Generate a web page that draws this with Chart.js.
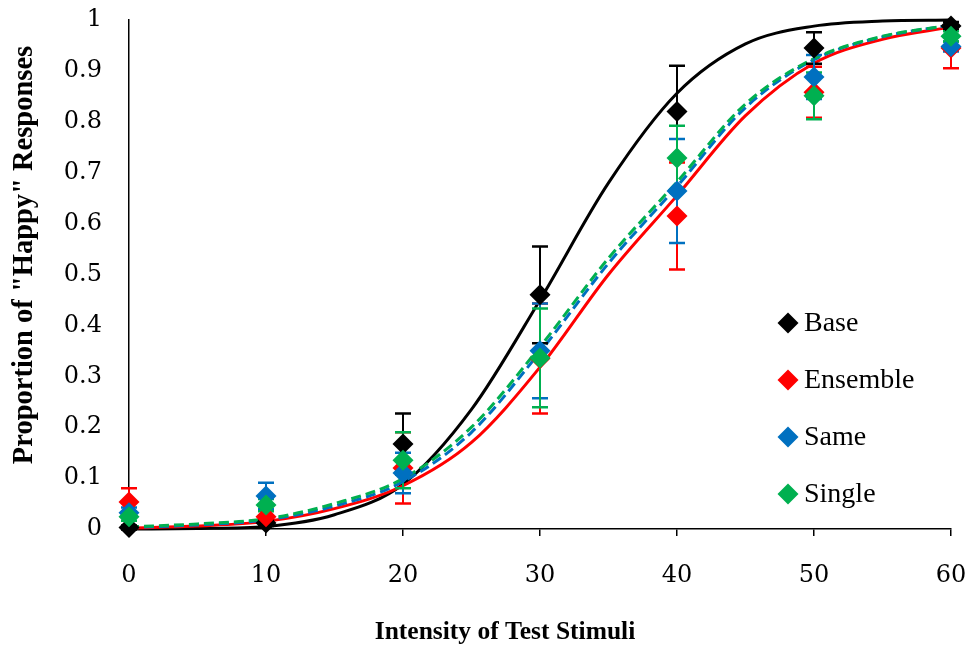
<!DOCTYPE html>
<html>
<head>
<meta charset="utf-8">
<script src="https://cdn.jsdelivr.net/npm/chart.js@4.4.1/dist/chart.umd.min.js"></script>
<style>
html,body{margin:0;padding:0;background:#ffffff;}
#wrap{width:969px;height:646px;position:relative;}
</style>
</head>
<body>
<div id="wrap"><canvas id="c" width="969" height="646"></canvas></div>
<script>
// ---------- data ----------
const xTicks = [0, 10, 20, 30, 40, 50, 60];
const yTicks = [0, 0.1, 0.2, 0.3, 0.4, 0.5, 0.6, 0.7, 0.8, 0.9, 1];
const xTitle = 'Intensity of Test Stimuli';
const yTitle = 'Proportion of "Happy" Responses';

const seriesNames = ['Base', 'Ensemble', 'Same', 'Single'];
const intensity = [0, 10, 20, 30, 40, 50, 60];

const baseMean     = [0.003, 0.012, 0.167, 0.460, 0.820, 0.945, 0.988];
const baseErr      = [0.004, 0.006, 0.060, 0.095, 0.090, 0.031, 0.008];
const ensembleMean = [0.053, 0.024, 0.120, 0.335, 0.615, 0.858, 0.945];
const ensembleErr  = [0.027, 0.012, 0.070, 0.108, 0.105, 0.050, 0.040];
const sameMean     = [0.032, 0.065, 0.110, 0.350, 0.664, 0.888, 0.948];
const sameErr      = [0.010, 0.026, 0.040, 0.093, 0.102, 0.043, 0.010];
const singleMean   = [0.024, 0.047, 0.135, 0.336, 0.729, 0.851, 0.968];
const singleErr    = [0.008, 0.012, 0.055, 0.097, 0.063, 0.046, 0.010];

// fitted curves
const fitX        = [0, 5, 10, 15, 20, 25, 30, 35, 40, 45, 50, 55, 60];
const fitBase     = [0.000, 0.001, 0.005, 0.028, 0.088, 0.235, 0.450, 0.680, 0.856, 0.953, 0.988, 0.998, 1.000];
const fitEnsemble = [0.002, 0.006, 0.015, 0.040, 0.085, 0.170, 0.318, 0.500, 0.655, 0.812, 0.915, 0.962, 0.986];
const fitSame     = [0.003, 0.008, 0.018, 0.045, 0.093, 0.190, 0.348, 0.522, 0.673, 0.828, 0.922, 0.967, 0.990];
const fitSingle   = [0.004, 0.010, 0.020, 0.050, 0.099, 0.200, 0.358, 0.532, 0.682, 0.835, 0.924, 0.968, 0.990];

const colors = ['#000000', '#FF0000', '#0070C0', '#00B050'];
// ---------- build ----------
const means = [baseMean, ensembleMean, sameMean, singleMean];
const errs = [baseErr, ensembleErr, sameErr, singleErr];
const fits = [fitBase, fitEnsemble, fitSame, fitSingle];
const dashes = [[], [], [10, 5], [10, 5]];

const datasets = [];
fits.forEach((f, i) => {
  datasets.push({
    label: seriesNames[i] + ' fit',
    isFit: true,
    data: fitX.map((x, j) => ({x: x, y: f[j]})),
    showLine: true,
    borderColor: colors[i],
    borderWidth: 3,
    borderDash: dashes[i],
    pointRadius: 0,
    pointHoverRadius: 0,
    cubicInterpolationMode: 'monotone',
    order: 8 - i,
    clip: false
  });
});
const firstPointIdx = datasets.length;
means.forEach((m, i) => {
  datasets.push({
    label: seriesNames[i],
    isFit: false,
    errors: errs[i],
    data: intensity.map((x, j) => ({x: x, y: m[j]})),
    showLine: false,
    backgroundColor: colors[i],
    borderColor: colors[i],
    pointStyle: 'rectRot',
    pointRadius: 10.5,
    pointHoverRadius: 10.5,
    pointBorderWidth: 0,
    order: 4 - i,
    clip: false
  });
});

const errorBarPlugin = {
  id: 'errorBars',
  beforeDatasetDraw(chart, args) {
    if (args.index !== firstPointIdx) return;
    const ctx = chart.ctx, xs = chart.scales.x, ys = chart.scales.y;
    chart.data.datasets.forEach(ds => {
      if (ds.isFit) return;
      ctx.save();
      ctx.strokeStyle = ds.borderColor;
      ds.data.forEach((p, j) => {
        const e = ds.errors[j];
        const px = xs.getPixelForValue(p.x);
        const top = ys.getPixelForValue(p.y + e);
        const bot = ys.getPixelForValue(p.y - e);
        ctx.lineWidth = 2;
        ctx.beginPath(); ctx.moveTo(px, top); ctx.lineTo(px, bot); ctx.stroke();
        ctx.lineWidth = 2.5;
        ctx.beginPath();
        ctx.moveTo(px - 8, top); ctx.lineTo(px + 8, top);
        ctx.moveTo(px - 8, bot); ctx.lineTo(px + 8, bot);
        ctx.stroke();
      });
      ctx.restore();
    });
  }
};

const legendPlugin = {
  id: 'insideLegend',
  afterDraw(chart) {
    const ctx = chart.ctx;
    const items = chart.data.datasets.filter(d => !d.isFit);
    const x0 = 788, y0 = 323, step = 57, r = 10.5;
    ctx.save();
    ctx.font = '28px "Liberation Serif", "Times New Roman", serif';
    ctx.textBaseline = 'middle';
    ctx.textAlign = 'left';
    items.forEach((d, i) => {
      const y = y0 + i * step;
      ctx.fillStyle = d.backgroundColor;
      ctx.beginPath();
      ctx.moveTo(x0, y - r); ctx.lineTo(x0 + r, y); ctx.lineTo(x0, y + r); ctx.lineTo(x0 - r, y);
      ctx.closePath(); ctx.fill();
      ctx.fillStyle = '#000000';
      ctx.fillText(d.label, x0 + 16, y + 1);
    });
    ctx.restore();
  }
};

const titlesPlugin = {
  id: 'axisTitles',
  afterDraw(chart) {
    const ctx = chart.ctx;
    ctx.save();
    ctx.fillStyle = '#000000';
    ctx.textAlign = 'center';
    ctx.textBaseline = 'middle';
    ctx.font = 'bold 25.5px "Liberation Serif", "Times New Roman", serif';
    ctx.fillText(xTitle, 505, 632);
    ctx.translate(25, 255);
    ctx.rotate(-Math.PI / 2);
    ctx.font = 'bold 28.5px "Liberation Serif", "Times New Roman", serif';
    ctx.fillText(yTitle, 0, 0);
    ctx.restore();
  }
};

new Chart(document.getElementById('c'), {
  type: 'scatter',
  data: {datasets: datasets},
  plugins: [errorBarPlugin, legendPlugin, titlesPlugin],
  options: {
    responsive: false,
    animation: false,
    devicePixelRatio: 1,
    layout: {autoPadding: false, padding: {top: 20, right: 18, left: 0, bottom: 0}},
    plugins: {legend: {display: false}, tooltip: {enabled: false}},
    scales: {
      x: {
        type: 'linear', min: 0, max: 60,
        afterBuildTicks: s => { s.ticks = xTicks.map(v => ({value: v})); },
        afterFit: s => { s.height = 117; s.paddingLeft = 0; s.paddingRight = 0; },
        grid: {display: true, drawOnChartArea: false, drawTicks: true, tickLength: 7, color: '#000000', lineWidth: 1.5},
        border: {display: true, color: '#000000', width: 1.5},
        ticks: {color: '#000000', padding: 25, maxRotation: 0,
          font: {family: '"DejaVu Serif", serif', size: 24},
          callback: v => String(v)}
      },
      y: {
        type: 'linear', min: 0, max: 1,
        afterBuildTicks: s => { s.ticks = yTicks.map(v => ({value: v})); },
        afterFit: s => { s.width = 129; s.paddingTop = 0; s.paddingBottom = 0; },
        grid: {display: false, drawOnChartArea: false, drawTicks: false},
        border: {display: true, color: '#000000', width: 1.5},
        ticks: {color: '#000000', padding: 27,
          font: {family: '"DejaVu Serif", serif', size: 24},
          callback: v => String(v)}
      }
    }
  }
});
</script>
</body>
</html>
